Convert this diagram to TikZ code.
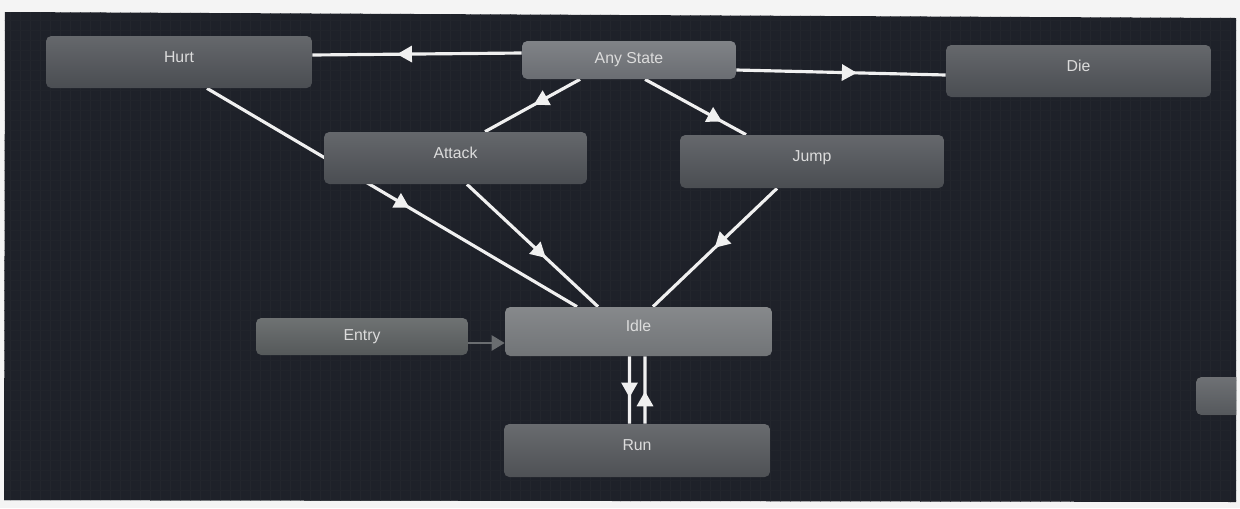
\documentclass[tikz,border=0pt]{standalone}
\usepackage{fontspec}
\setmainfont{Liberation Sans}
\usetikzlibrary{arrows.meta,decorations.markings,calc}
\pgfdeclarelayer{bg}
\pgfdeclarelayer{edges}
\pgfsetlayers{bg,edges,main}
\definecolor{paper}{HTML}{F4F4F4}
\definecolor{canvas}{HTML}{1E2129}
\definecolor{gridc}{HTML}{23262D}
\definecolor{txt}{HTML}{DCDCDC}
\definecolor{edgec}{HTML}{F0F0F0}
\definecolor{entryc}{HTML}{6A6D70}
\definecolor{stdark}{HTML}{4A4D52}
\definecolor{stany}{HTML}{6A6D72}
\definecolor{stentry}{HTML}{55595A}
\definecolor{stidle}{HTML}{717477}
\definecolor{strun}{HTML}{4E5155}
\definecolor{stpart}{HTML}{55585C}
\tikzset{
  state/.style={rectangle, rounded corners=3pt, inner sep=0pt, draw=none,
    font=\fontsize{9}{11}\selectfont, text=txt},
  plain/.style={state, top color=#1!85!white, bottom color=#1},
  lifted/.style={text height=2ex, text depth=2ex},
  trans/.style={draw=edgec, line width=1.8pt, postaction={decorate},
    decoration={markings, mark=at position #1 with {\arrow[xshift=0.15cm]{Triangle[length=0.3cm,width=0.32cm]}}}},
  trans/.default=0.5,
  entryline/.style={draw=entryc, line width=1.4pt}
}
\begin{document}
\begin{tikzpicture}[x=0.02cm, y=-0.02cm]
\useasboundingbox (0,0) rectangle (1240,508);
\begin{pgfonlayer}{bg}
  \fill[paper] (0,0) rectangle (1240,508);
  \fill[canvas] (5,12) -- (1236,18) -- (1236,502) -- (4,500) -- cycle;
  \begin{scope}
    \clip (5,12) -- (1236,18) -- (1236,502) -- (4,500) -- cycle;
    \foreach \gx in {10,20,...,1230} \draw[gridc, line width=0.25pt] (\gx,0) -- (\gx,508);
    \foreach \gy in {20,30,...,500} \draw[gridc!60!canvas, line width=0.25pt] (0,\gy) -- (1240,\gy);
    \fill[rounded corners=3pt, top color=stpart!85!white, bottom color=stpart] (1196,377) rectangle (1250,415);
  \end{scope}
\end{pgfonlayer}

\node[plain=stdark, lifted, minimum width=5.32cm, minimum height=1.04cm] (hurt) at (179,62) {Hurt};
\node[plain=stany, minimum width=4.28cm, minimum height=0.76cm] (any) at (629,60) {Any State};
\node[plain=stdark, lifted, minimum width=5.30cm, minimum height=1.04cm] (die) at (1078.5,71) {Die};
\node[plain=stdark, lifted, minimum width=5.26cm, minimum height=1.04cm] (attack) at (455.5,158) {Attack};
\node[plain=stdark, lifted, minimum width=5.28cm, minimum height=1.06cm] (jump) at (812,161.5) {Jump};
\node[plain=stentry, minimum width=4.24cm, minimum height=0.74cm] (entry) at (362,336.5) {Entry};
\node[plain=stidle, lifted, minimum width=5.34cm, minimum height=0.98cm] (idle) at (638.5,331.5) {Idle};
\node[plain=strun, lifted, minimum width=5.32cm, minimum height=1.06cm] (run) at (637,450.5) {Run};

\begin{pgfonlayer}{edges}
  \draw[trans=0.56] ($(any.west)+(0,-7)$) -- ($(hurt.east)+(0,-7)$);
  \draw[trans=0.54] ($(any.east)+(0,10)$) -- ($(die.west)+(0,4)$);
  \draw[trans=0.42] ($(any.south)+(-49,0)$) -- ($(attack.north)+(29.5,0)$);
  \draw[trans=0.70] ($(any.south)+(16,0)$) -- ($(jump.north)+(-66,0)$);
  \draw[trans=0.53] ($(hurt.south)+(28,0)$) -- ($(idle.north)+(-61.5,0)$);
  \draw[trans=0.56] ($(attack.south)+(11.5,0)$) -- ($(idle.north)+(-40.5,0)$);
  \draw[trans=0.46] ($(jump.south)+(-35,0)$) -- ($(idle.north)+(14.5,0)$);
  \draw[trans=0.5] ($(idle.south)+(-9,0)$) -- ($(run.north)+(-7.5,0)$);
  \draw[trans=0.37] ($(run.north)+(8,0)$) -- ($(idle.south)+(6.5,0)$);
  \draw[entryline, -{Triangle[length=0.26cm,width=0.3cm]}] ($(entry.east)+(0,6.5)$) -- ($(idle.west)+(0,11.5)$);
\end{pgfonlayer}
\end{tikzpicture}
\end{document}
